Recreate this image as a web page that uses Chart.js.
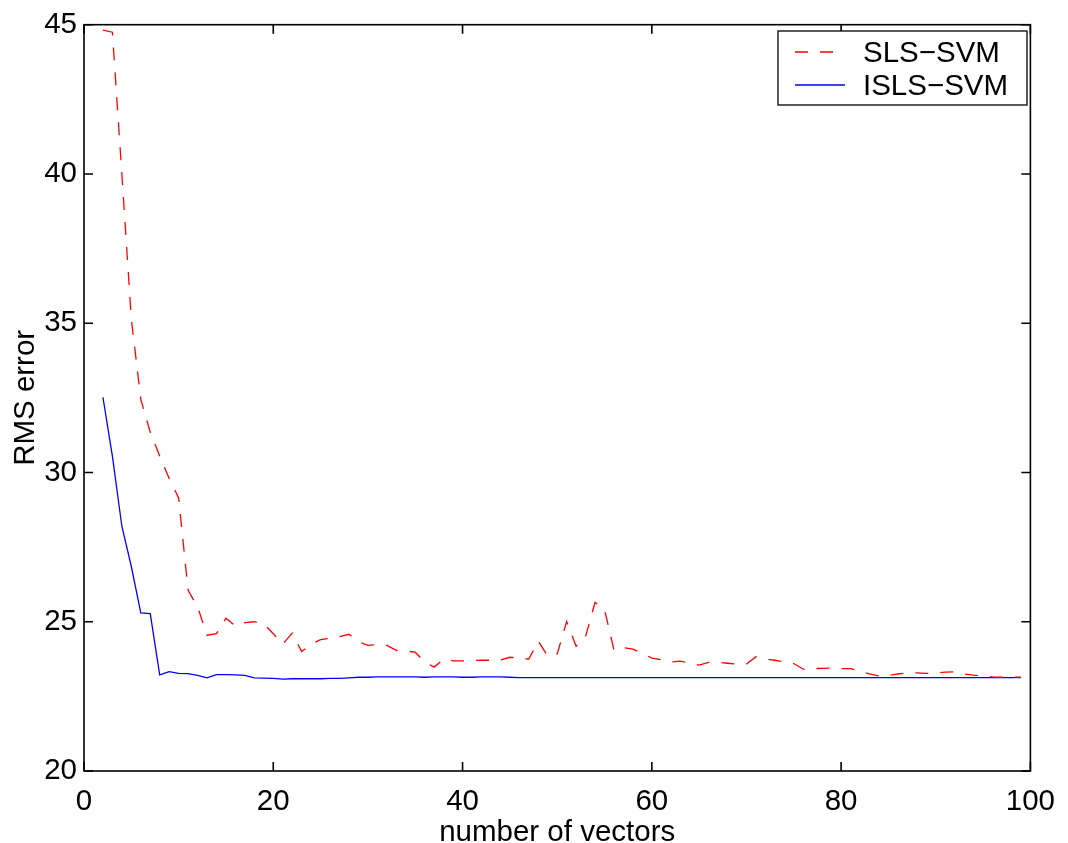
<!DOCTYPE html>
<html>
<head>
<meta charset="utf-8">
<script src="https://cdn.jsdelivr.net/npm/chart.js@4"></script>
<style>
  html, body { margin: 0; padding: 0; background: #fff; }
  #wrap { width: 1068px; height: 843px; }
</style>
</head>
<body>
<div id="wrap"><canvas id="chart" width="1068" height="843"></canvas></div>
<script>
// number of vectors 2..99
const vectors = [2,3,4,5,6,7,8,9,10,11,12,13,14,15,16,17,18,19,20,21,22,23,24,25,26,27,28,29,30,
  31,32,33,34,35,36,37,38,39,40,41,42,43,44,45,46,47,48,49,50,51,52,53,54,55,56,57,58,59,60,
  61,62,63,64,65,66,67,68,69,70,71,72,73,74,75,76,77,78,79,80,81,82,83,84,85,86,87,88,89,90,
  91,92,93,94,95,96,97,98,99];

const slsSvm = [44.82,44.75,40.0,35.15,32.45,31.35,30.55,29.8,29.15,26.05,25.5,24.55,24.6,25.12,24.85,
  24.97,25.0,24.93,24.6,24.25,24.62,24.0,24.25,24.4,24.45,24.5,24.58,24.33,24.21,24.23,24.21,24.04,
  24.02,23.98,23.65,23.48,23.75,23.69,23.69,23.7,23.71,23.71,23.72,23.81,23.78,23.75,24.35,23.85,
  23.92,25.01,24.18,24.51,25.65,25.41,24.05,24.13,24.08,23.95,23.78,23.73,23.65,23.68,23.61,23.55,
  23.64,23.64,23.61,23.58,23.58,23.83,23.75,23.71,23.66,23.6,23.41,23.43,23.44,23.45,23.43,23.43,
  23.35,23.25,23.18,23.2,23.25,23.29,23.29,23.27,23.28,23.31,23.32,23.25,23.21,23.18,23.15,23.14,
  23.15,23.14];

const islsSvm = [32.52,30.55,28.2,26.85,25.3,25.27,23.22,23.33,23.27,23.26,23.2,23.12,23.23,23.23,23.22,
  23.2,23.12,23.11,23.1,23.08,23.09,23.09,23.09,23.09,23.1,23.1,23.12,23.14,23.14,23.15,23.15,23.15,
  23.15,23.15,23.14,23.15,23.15,23.15,23.14,23.14,23.15,23.15,23.15,23.14,23.13,23.13,23.13,23.13,
  23.13,23.13,23.13,23.13,23.13,23.13,23.13,23.13,23.13,23.13,23.13,23.13,23.13,23.13,23.13,23.13,
  23.13,23.13,23.13,23.13,23.13,23.13,23.13,23.13,23.13,23.13,23.13,23.13,23.13,23.13,23.13,23.13,
  23.13,23.13,23.13,23.13,23.13,23.13,23.13,23.13,23.13,23.13,23.13,23.13,23.13,23.13,23.13,23.13,
  23.13,23.13];

const xTicks = [0, 20, 40, 60, 80, 100];
const yTicks = [20, 25, 30, 35, 40, 45];

const FONT = "'Liberation Sans', Arial, Helvetica, sans-serif";
const FSIZE = 29.5;

// matlab style box, inward ticks and legend
const matlabFrame = {
  id: "matlabFrame",
  afterDraw(chart) {
    const { ctx, chartArea: a, scales } = chart;
    ctx.save();
    ctx.strokeStyle = "#000";
    ctx.lineWidth = 1.6;
    ctx.strokeRect(a.left, a.top, a.right - a.left, a.bottom - a.top);
    ctx.beginPath();
    const tl = 9;
    xTicks.forEach(v => {
      const px = scales.x.getPixelForValue(v);
      ctx.moveTo(px, a.bottom); ctx.lineTo(px, a.bottom - tl);
      ctx.moveTo(px, a.top); ctx.lineTo(px, a.top + tl);
    });
    yTicks.forEach(v => {
      const py = scales.y.getPixelForValue(v);
      ctx.moveTo(a.left, py); ctx.lineTo(a.left + tl, py);
      ctx.moveTo(a.right, py); ctx.lineTo(a.right - tl, py);
    });
    ctx.stroke();

    // legend box
    const bx = 778, by = 31, bw = 249, bh = 74;
    ctx.fillStyle = "#fff";
    ctx.fillRect(bx, by, bw, bh);
    ctx.lineWidth = 1.3;
    ctx.strokeRect(bx, by, bw, bh);
    ctx.font = FSIZE + "px " + FONT;
    ctx.textBaseline = "alphabetic";
    chart.data.datasets.forEach((ds, i) => {
      const ly = by + 21 + i * 33;
      ctx.strokeStyle = ds.borderColor;
      ctx.lineWidth = ds.borderWidth;
      ctx.setLineDash(ds.borderDash || []);
      ctx.beginPath();
      ctx.moveTo(bx + 17, ly);
      ctx.lineTo(bx + 67, ly);
      ctx.stroke();
      ctx.setLineDash([]);
      ctx.fillStyle = "#000";
      ctx.fillText(ds.label, bx + 85, ly + 10);
    });
    ctx.restore();
  }
};

const ctx = document.getElementById("chart").getContext("2d");

new Chart(ctx, {
  type: "line",
  data: {
    datasets: [
      {
        label: "SLS\u2212SVM",
        data: vectors.map((v, i) => ({ x: v, y: slsSvm[i] })),
        borderColor: "#ff0000",
        borderWidth: 1.3,
        borderDash: [13, 12],
        pointRadius: 0,
        tension: 0,
        fill: false
      },
      {
        label: "ISLS\u2212SVM",
        data: vectors.map((v, i) => ({ x: v, y: islsSvm[i] })),
        borderColor: "#0000ff",
        borderWidth: 1.3,
        pointRadius: 0,
        tension: 0,
        fill: false
      }
    ]
  },
  options: {
    responsive: false,
    animation: false,
    layout: { padding: { top: 19, right: 34, left: 0, bottom: 0 } },
    plugins: {
      legend: { display: false },
      tooltip: { enabled: false }
    },
    scales: {
      x: {
        type: "linear",
        min: 0,
        max: 100,
        afterFit: s => { s.height = 72; },
        afterBuildTicks: s => { s.ticks = xTicks.map(v => ({ value: v })); },
        grid: { display: false, drawTicks: false },
        border: { display: false },
        ticks: { color: "#000", font: { family: FONT, size: FSIZE }, padding: 13, maxRotation: 0, autoSkip: false },
        title: {
          display: true,
          text: "number of vectors",
          color: "#000",
          font: { family: FONT, size: FSIZE, lineHeight: 0.7 },
          padding: { top: 0, bottom: 0 }
        }
      },
      y: {
        min: 20,
        max: 45,
        afterFit: s => { s.width = 84; },
        afterBuildTicks: s => { s.ticks = yTicks.map(v => ({ value: v })); },
        grid: { display: false, drawTicks: false },
        border: { display: false },
        ticks: { color: "#000", font: { family: FONT, size: FSIZE }, padding: 7, autoSkip: false },
        title: {
          display: true,
          text: "RMS error",
          color: "#000",
          font: { family: FONT, size: FSIZE },
          padding: { top: 8, bottom: 0 }
        }
      }
    }
  },
  plugins: [matlabFrame]
});
</script>
</body>
</html>
